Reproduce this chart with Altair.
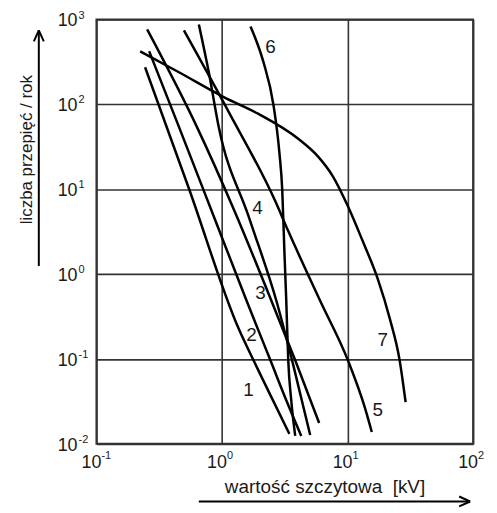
import altair as alt
import pandas as pd

# curve data (x: kV, y: surges per year)
c1_x = [0.244, 0.545, 1.356, 1.782, 2.43, 3.44]
c1_y = [274, 10.2, 0.228, 0.0964, 0.0375, 0.0131]
c2_x = [0.263, 0.454, 0.859, 1.57, 2.43, 3.25, 4.28]
c2_y = [422, 54.3, 4.81, 0.485, 0.0964, 0.0327, 0.0124]
c3_x = [0.2535, 0.631, 1.26, 2.475, 3.83, 5.94]
c3_y = [764, 54.3, 5.50, 0.485, 0.0964, 0.0176]
c4_x = [0.654, 0.785, 0.942, 1.627, 2.71, 3.70, 5.04]
c4_y = [874, 239, 54.3, 4.81, 0.485, 0.0841, 0.0127]
c5_x = [0.4975, 1.13, 2.66, 3.37, 6.05, 10.07, 13.7, 15.6]
c5_y = [743, 81.5, 7.2, 3.21, 0.485, 0.0964, 0.0271, 0.0138]
c6_x = [1.687, 2.14, 2.57, 2.86, 3.02, 3.14, 3.25, 3.37, 3.56, 3.83]
c6_y = [828, 314, 98.4, 27.7, 9.68, 1.87, 0.485, 0.0964, 0.0327, 0.0124]
c7_x = [0.223, 0.454, 1.032, 1.953, 4.05, 5.83, 7.66, 10.07, 13.2, 17.4, 21.7, 26.0, 29.0]
c7_y = [422, 239, 122, 77.2, 39.3, 24.2, 14.1, 6.29, 2.45, 0.879, 0.299, 0.0964, 0.031]

label_text = ["1", "2", "3", "4", "5", "6", "7"]
label_x = [1.627, 1.718, 2.025, 1.917, 17.4, 2.43, 19.1]
label_y = [0.0429, 0.189, 0.603, 5.96, 0.025, 470, 0.165]

x_ticks = [0.1, 1, 10, 100]
x_exp = ["-1", "0", "1", "2"]
y_ticks = [0.01, 0.1, 1, 10, 100, 1000]
y_exp = ["-2", "-1", "0", "1", "2", "3"]

FONT = "Liberation Sans"
W, H = 379, 427
INK = "#1a1a1a"

rows = []
for name, xs, ys in [("1", c1_x, c1_y), ("2", c2_x, c2_y), ("3", c3_x, c3_y),
                     ("4", c4_x, c4_y), ("5", c5_x, c5_y), ("6", c6_x, c6_y),
                     ("7", c7_x, c7_y)]:
    for i, (xv, yv) in enumerate(zip(xs, ys)):
        rows.append({"curve": name, "x": xv, "y": yv, "o": i})
df = pd.DataFrame(rows)

xscale = alt.Scale(type="log", domain=[0.1, 100], nice=False)
yscale = alt.Scale(type="log", domain=[0.01, 1000], nice=False)

lines = alt.Chart(df).mark_line(color="black", strokeWidth=2.5, interpolate="monotone").encode(
    x=alt.X("x:Q", scale=xscale,
            axis=alt.Axis(values=x_ticks, labels=False, ticks=False, title=None, domain=False,
                          grid=True, gridColor="#333333", gridWidth=1.6, gridOpacity=1)),
    y=alt.Y("y:Q", scale=yscale,
            axis=alt.Axis(values=y_ticks, labels=False, ticks=False, title=None, domain=False,
                          grid=True, gridColor="#333333", gridWidth=1.6, gridOpacity=1)),
    detail="curve:N",
    order="o:Q",
)

labs = alt.Chart(pd.DataFrame({"x": label_x, "y": label_y, "t": label_text})).mark_text(
    font=FONT, fontSize=19, color=INK
).encode(x=alt.X("x:Q", scale=xscale), y=alt.Y("y:Q", scale=yscale), text="t:N")

xt = pd.DataFrame({"x": x_ticks, "e": x_exp, "b": ["10"] * 4})
xbase = alt.Chart(xt).mark_text(font=FONT, fontSize=18, color=INK, align="right",
                                baseline="middle", dx=5).encode(
    x=alt.X("x:Q", scale=xscale), y=alt.value(H + 19), text="b:N")
xsup = alt.Chart(xt).mark_text(font=FONT, fontSize=11, color=INK, align="left",
                               baseline="middle", dx=5).encode(
    x=alt.X("x:Q", scale=xscale), y=alt.value(H + 12), text="e:N")

yt = pd.DataFrame({"y": y_ticks, "e": y_exp, "b": ["10"] * 6})
ybase = alt.Chart(yt).mark_text(font=FONT, fontSize=18, color=INK, align="right",
                                baseline="middle", dy=2).encode(
    y=alt.Y("y:Q", scale=yscale), x=alt.value(-19), text="b:N")
ysup = alt.Chart(yt).mark_text(font=FONT, fontSize=11, color=INK, align="left",
                               baseline="middle", dy=-4).encode(
    y=alt.Y("y:Q", scale=yscale), x=alt.value(-18), text="e:N")

one = pd.DataFrame({"a": [0]})
ytitle = alt.Chart(one).mark_text(font=FONT, fontSize=17, color=INK, angle=270,
                                  align="center", baseline="middle").encode(
    x=alt.value(-70), y=alt.value(131), text=alt.value("liczba przepięć / rok"))
xtitle = alt.Chart(one).mark_text(font=FONT, fontSize=19, color=INK,
                                  align="center", baseline="middle").encode(
    x=alt.value(230), y=alt.value(470), text=alt.value("wartość szczytowa\u00a0 [kV]"))

def seg(x1, y1, x2, y2):
    return alt.Chart(one).mark_rule(color="black", strokeWidth=2).encode(
        x=alt.value(x1), y=alt.value(y1), x2=alt.value(x2), y2=alt.value(y2))

arrows = [
    seg(-58, 248, -58, 11), seg(-58, 11, -63, 22), seg(-58, 11, -53, 22),
    seg(103, 485, 376, 485), seg(376, 485, 365, 480), seg(376, 485, 365, 490),
]

chart = alt.layer(lines, labs, xbase, xsup, ybase, ysup, ytitle, xtitle, *arrows).properties(
    width=W, height=H,
    autosize=alt.AutoSizeParams(type="none"),
    padding={"left": 89, "top": 10, "right": 16, "bottom": 66},
).configure_view(stroke="#333333", strokeWidth=2)

chart.save("out.html", embed_options={"renderer": "svg", "actions": False})
